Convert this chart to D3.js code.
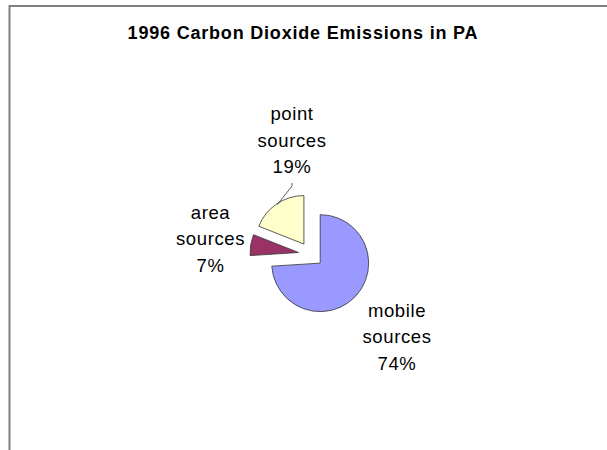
<!DOCTYPE html>
<html>
<head>
<meta charset="utf-8">
<script src="https://cdn.jsdelivr.net/npm/d3@7"></script>
<style>
  html, body { margin: 0; padding: 0; background: #fff; }
  svg { display: block; }
  text { font-family: "Liberation Sans", Arial, sans-serif; fill: #000; }
</style>
</head>
<body>
<svg id="chart" width="607" height="450"></svg>
<script>
const title = "1996 Carbon Dioxide Emissions in PA";
const categories = ["mobile sources", "area sources", "point sources"];
const values = [74, 7, 19];
const colors = ["#9999FF", "#993366", "#FFFFCC"];

const svg = d3.select("#chart");
const W = 607, H = 450;

// frame
svg.append("line").attr("x1", 9.5).attr("y1", 5).attr("x2", 9.5).attr("y2", H)
  .attr("stroke", "#808080").attr("stroke-width", 2);
svg.append("line").attr("x1", 9).attr("y1", 6).attr("x2", W).attr("y2", 6)
  .attr("stroke", "#808080").attr("stroke-width", 2);

svg.append("text").attr("x", 303).attr("y", 38.5)
  .attr("text-anchor", "middle").attr("font-weight", "bold")
  .attr("font-size", "18px").style("letter-spacing", "0.8px")
  .text(title);

const cx = 311, cy = 254.5, R = 48.5, explode = 12.6;
const pie = d3.pie().sort(null).startAngle(0).endAngle(2 * Math.PI);
const arcs = pie(values);
const arc = d3.arc().innerRadius(0).outerRadius(R);

const g = svg.append("g").attr("transform", `translate(${cx},${cy})`);
arcs.forEach((a, i) => {
  const mid = (a.startAngle + a.endAngle) / 2;
  const dx = Math.sin(mid) * explode, dy = -Math.cos(mid) * explode;
  g.append("path").attr("d", arc(a))
    .attr("transform", `translate(${dx},${dy})`)
    .attr("fill", colors[i]).attr("stroke", "#333").attr("stroke-width", 0.8)
    .attr("stroke-linejoin", "round");
});

// labels (layout positions: center x, first baseline)
const labelPos = [[397, 316.5], [210.5, 218.5], [292, 120]];
const lineH = 26.5;
categories.forEach((c, i) => {
  const words = c.split(" ");
  const lines = [words[0], words[1], values[i] + "%"];
  const t = svg.append("text").attr("text-anchor", "middle")
    .attr("font-size", "18.5px").style("letter-spacing", "0.6px");
  lines.forEach((l, k) => {
    t.append("tspan").attr("x", labelPos[i][0]).attr("y", labelPos[i][1] + k * lineH).text(l);
  });
});

// leader line for point sources
{
  const a = arcs[2];
  const mid = (a.startAngle + a.endAngle) / 2;
  const ex = Math.sin(mid) * explode, ey = -Math.cos(mid) * explode;
  const r0 = R - 1;
  const x0 = cx + ex + Math.sin(mid) * r0, y0 = cy + ey - Math.cos(mid) * r0;
  const pts = [[x0, y0], [292, 186], [292, 183]];
  svg.append("path").attr("d", d3.line()(pts))
    .attr("fill", "none").attr("stroke", "#333").attr("stroke-width", 0.8);
}
</script>
</body>
</html>
